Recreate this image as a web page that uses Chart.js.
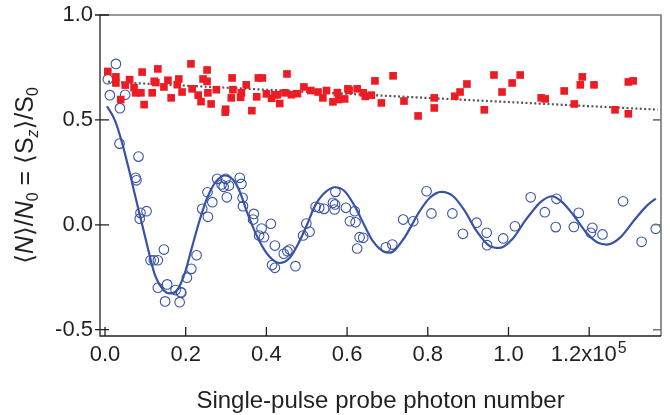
<!DOCTYPE html>
<html>
<head>
<meta charset="utf-8">
<title>Probe photon number</title>
<script src="https://cdn.jsdelivr.net/npm/chart.js"></script>
<style>
    body { margin: 0; background: #fff; }
</style>
</head>
<body>
<canvas id="photonCanvas" width="670" height="415"></canvas>
<script>
// x values are in units of 10^5 photons
let squareX = [0.007, 0.027, 0.027, 0.039, 0.050, 0.061, 0.072, 0.076, 0.089, 0.092,
    0.097, 0.117, 0.122, 0.126, 0.131, 0.146, 0.156, 0.164, 0.179, 0.183,
    0.191, 0.213, 0.216, 0.231, 0.238, 0.243, 0.253, 0.253, 0.255, 0.263,
    0.276, 0.299, 0.298, 0.315, 0.317, 0.313, 0.338, 0.336, 0.350, 0.364,
    0.376, 0.380, 0.390, 0.400, 0.413, 0.421, 0.427, 0.433, 0.446, 0.451,
    0.462, 0.477, 0.493, 0.510, 0.528, 0.540, 0.549, 0.565, 0.576, 0.579,
    0.594, 0.602, 0.605, 0.625, 0.640, 0.645, 0.660, 0.669, 0.685, 0.714,
    0.741, 0.776, 0.816, 0.816, 0.867, 0.880, 0.897, 0.940, 0.964, 0.984,
    1.009, 1.029, 1.081, 1.091, 1.138, 1.163, 1.178, 1.183, 1.212, 1.264,
    1.297, 1.309, 1.297];
let squareY = [0.731, 0.705, 0.676, 0.597, 0.666, 0.692, 0.654, 0.629, 0.629, 0.728,
    0.573, 0.629, 0.684, 0.678, 0.743, 0.657, 0.689, 0.605, 0.668, 0.695,
    0.633, 0.767, 0.648, 0.618, 0.587, 0.695, 0.738, 0.684, 0.629, 0.576,
    0.644, 0.551, 0.537, 0.700, 0.644, 0.605, 0.629, 0.608, 0.667, 0.544,
    0.610, 0.700, 0.700, 0.624, 0.603, 0.620, 0.620, 0.578, 0.629, 0.719,
    0.620, 0.625, 0.657, 0.640, 0.633, 0.605, 0.640, 0.586, 0.630, 0.597,
    0.600, 0.648, 0.641, 0.648, 0.629, 0.612, 0.618, 0.686, 0.581, 0.710,
    0.590, 0.519, 0.605, 0.557, 0.613, 0.633, 0.671, 0.548, 0.714, 0.633,
    0.676, 0.714, 0.605, 0.600, 0.638, 0.576, 0.667, 0.705, 0.667, 0.548,
    0.681, 0.686, 0.529];

let trendX = [0.0075, 1.370];
let trendY = [0.682, 0.549];

let circleX = [0.007, 0.027, 0.012, 0.037, 0.050, 0.036, 0.083, 0.076, 0.078, 0.088,
    0.103, 0.086, 0.146, 0.113, 0.121, 0.131, 0.131, 0.154, 0.149, 0.175,
    0.188, 0.189, 0.185, 0.203, 0.214, 0.227, 0.241, 0.255, 0.266, 0.254,
    0.278, 0.289, 0.294, 0.299, 0.307, 0.302, 0.334, 0.338, 0.341, 0.342,
    0.369, 0.367, 0.388, 0.382, 0.394, 0.411, 0.421, 0.414, 0.421, 0.443,
    0.452, 0.458, 0.472, 0.491, 0.499, 0.507, 0.522, 0.531, 0.543, 0.565,
    0.570, 0.569, 0.571, 0.597, 0.607, 0.621, 0.619, 0.631, 0.640, 0.625,
    0.696, 0.712, 0.739, 0.764, 0.797, 0.809, 0.861, 0.887, 0.921, 0.946,
    0.947, 0.987, 1.016, 1.055, 1.090, 1.119, 1.117, 1.162, 1.174, 1.208,
    1.204, 1.233, 1.284, 1.330, 1.365];
let circleY = [0.694, 0.767, 0.618, 0.556, 0.620, 0.387, 0.325, 0.224, 0.212, 0.057,
    0.065, 0.029, -0.118, -0.169, -0.169, -0.169, -0.300, -0.284, -0.365, -0.311,
    -0.321, -0.324, -0.369, -0.252, -0.210, -0.145, 0.076, 0.038, 0.108, 0.155,
    0.219, 0.192, 0.181, 0.219, 0.187, 0.131, 0.224, 0.195, 0.129, 0.089,
    0.052, 0.025, -0.018, -0.051, -0.059, 0.005, -0.099, -0.192, -0.205, -0.138,
    -0.126, -0.118, -0.197, -0.051, 0.006, -0.033, 0.086, 0.081, 0.076, 0.105,
    0.097, 0.073, 0.157, 0.081, 0.017, 0.012, 0.065, -0.059, -0.062, -0.113,
    -0.107, -0.094, 0.025, 0.017, 0.160, 0.054, 0.054, -0.043, 0.010, -0.038,
    -0.097, -0.065, -0.007, 0.131, 0.060, 0.124, -0.011, -0.010, 0.057, -0.014,
    -0.038, -0.046, 0.112, -0.081, -0.019];

// points
let fitX = [0.005, 0.024, 0.041, 0.061, 0.082, 0.103, 0.123, 0.146, 0.160, 0.177,
    0.198, 0.214, 0.235, 0.255, 0.276, 0.297, 0.317, 0.334, 0.351, 0.371,
    0.392, 0.413, 0.433, 0.458, 0.478, 0.499, 0.520, 0.540, 0.569, 0.594,
    0.619, 0.644, 0.664, 0.689, 0.706, 0.739, 0.780, 0.805, 0.834, 0.863,
    0.892, 0.921, 0.954, 0.978, 1.011, 1.040, 1.053, 1.078, 1.107, 1.131,
    1.160, 1.193, 1.222, 1.244, 1.276, 1.313, 1.342, 1.365];
let fitY = [0.565, 0.500, 0.400, 0.250, 0.080, -0.085, -0.235, -0.313, -0.327, -0.316,
    -0.229, -0.118, 0.025, 0.136, 0.208, 0.235, 0.216, 0.159, 0.065, -0.030,
    -0.110, -0.162, -0.182, -0.157, -0.094, -0.007, 0.089, 0.144, 0.179, 0.160,
    0.089, -0.007, -0.078, -0.126, -0.133, -0.070, 0.065, 0.129, 0.157, 0.136,
    0.065, -0.030, -0.102, -0.110, -0.065, 0.016, 0.049, 0.106, 0.136, 0.112,
    0.049, -0.038, -0.086, -0.094, -0.062, 0.025, 0.089, 0.125];

let xTicks = [0.0, 0.2, 0.4, 0.6, 0.8, 1.0, 1.2];
let xTickLabels = ['0.0', '0.2', '0.4', '0.6', '0.8', '1.0', '1.2x10\u2002'];
let xTickExponent = '5';
let yTicks = [-0.5, 0.0, 0.5, 1.0];

let fontFamily = "'Liberation Sans', Arial, 'DejaVu Sans', sans-serif";
let textColor = '#231f20';
let redColor = '#ed1c24';
let blueColor = '#3953a4';

function toPoints(xs, ys) {
    let points = [];
    for (let i = 0; i < xs.length; i++) {
        points.push({ x: xs[i], y: ys[i] });
    }
    return points;
}

// frame: dark left/bottom axes, grey top/right, ticks pointing inward
const framePlugin = {
    id: 'frame',
    afterDraw(chart) {
        let ctx = chart.ctx;
        let a = chart.chartArea;
        let xs = chart.scales.x;
        let ys = chart.scales.y;
        ctx.save();
        ctx.lineCap = 'butt';

        ctx.strokeStyle = '#777';
        ctx.lineWidth = 1.6;
        ctx.beginPath();
        ctx.moveTo(a.left, a.top);
        ctx.lineTo(a.right, a.top);
        ctx.lineTo(a.right, a.bottom);
        ys.ticks.forEach(function(t) {
            let p = ys.getPixelForValue(t.value);
            ctx.moveTo(a.right, p);
            ctx.lineTo(a.right - 8, p);
        });
        ctx.stroke();

        ctx.strokeStyle = textColor;
        ctx.lineWidth = 1.3;
        ctx.beginPath();
        ctx.moveTo(a.left, a.top);
        ctx.lineTo(a.left, a.bottom);
        ctx.lineTo(a.right, a.bottom);
        ys.ticks.forEach(function(t) {
            let p = ys.getPixelForValue(t.value);
            ctx.moveTo(a.left - 5, p);
            ctx.lineTo(a.left + 9, p);
        });
        xs.ticks.forEach(function(t) {
            let p = xs.getPixelForValue(t.value);
            ctx.moveTo(p, a.bottom);
            ctx.lineTo(p, a.bottom - 9);
        });
        ctx.stroke();

        // raised exponent after the last x tick label
        let last = xTicks.length - 1;
        ctx.font = '22px ' + fontFamily;
        let full = ctx.measureText(xTickLabels[last]).width;
        let base = ctx.measureText(xTickLabels[last].trim()).width;
        let startX = xs.getPixelForValue(xTicks[last]) - full / 2 + base + 1;
        ctx.font = '16px ' + fontFamily;
        ctx.fillStyle = textColor;
        ctx.textAlign = 'left';
        ctx.textBaseline = 'alphabetic';
        ctx.fillText(xTickExponent, startX, a.bottom + 17);
        ctx.restore();
    }
};

// y title with italics and subscripts: <N>/N0 = <Sz>/S0
let yTitleParts = [
    ['\u27e8', ''], ['N', 'i'], ['\u27e9', ''], ['/', ''], ['N', 'i'], ['0', 'sub'],
    [' = ', ''], ['\u27e8', ''], ['S', ''], ['z', 'isub'], ['\u27e9', ''], ['/', ''],
    ['S', ''], ['0', 'sub']
];

const yTitlePlugin = {
    id: 'yTitle',
    afterDraw(chart) {
        let ctx = chart.ctx;
        let a = chart.chartArea;
        let size = 25;
        let subSize = 16;
        function fontFor(kind) {
            if (kind === 'i') return 'italic ' + size + 'px ' + fontFamily;
            if (kind === 'sub') return subSize + 'px ' + fontFamily;
            if (kind === 'isub') return 'italic ' + subSize + 'px ' + fontFamily;
            return size + 'px ' + fontFamily;
        }
        ctx.save();
        let total = 0;
        yTitleParts.forEach(function(part) {
            ctx.font = fontFor(part[1]);
            total += ctx.measureText(part[0]).width;
        });
        ctx.translate(33, (a.top + a.bottom) / 2);
        ctx.rotate(-Math.PI / 2);
        ctx.fillStyle = textColor;
        ctx.textBaseline = 'alphabetic';
        ctx.textAlign = 'left';
        let pos = -total / 2;
        yTitleParts.forEach(function(part) {
            ctx.font = fontFor(part[1]);
            let dy = (part[1] === 'sub' || part[1] === 'isub') ? 5 : 0;
            ctx.fillText(part[0], pos, dy);
            pos += ctx.measureText(part[0]).width;
        });
        ctx.restore();
    }
};

let photonCanvas = document.getElementById('photonCanvas').getContext('2d');

let photonChart = new Chart(photonCanvas, {
    type: 'scatter',
    data: {
        datasets: [
            {
                data: toPoints(squareX, squareY),
                pointStyle: 'rect',
                pointRadius: 5.4,
                backgroundColor: redColor,
                borderWidth: 0,
                order: 1
            },
            {
                data: toPoints(trendX, trendY),
                showLine: true,
                borderColor: '#555',
                borderWidth: 2.2,
                borderDash: [2, 2.4],
                pointRadius: 0,
                order: 3
            },
            {
                data: toPoints(circleX, circleY),
                pointStyle: 'circle',
                pointRadius: 4.8,
                borderColor: blueColor,
                borderWidth: 1.1,
                backgroundColor: 'rgba(0,0,0,0)',
                order: 2
            },
            {
                data: toPoints(fitX, fitY),
                showLine: true,
                cubicInterpolationMode: 'monotone',
                borderColor: blueColor,
                borderWidth: 2.2,
                pointRadius: 0,
                order: 4
            }
        ]
    },
    options: {
        responsive: false,
        animation: false,
        layout: { padding: { left: 0, top: 15, right: 9, bottom: 0 } },
        plugins: {
            legend: { display: false },
            tooltip: { enabled: false }
        },
        scales: {
            x: {
                type: 'linear',
                min: -0.0124,
                max: 1.378,
                grid: { display: false, drawTicks: false },
                border: { display: false },
                afterBuildTicks: function(scale) {
                    scale.ticks = xTicks.map(function(v) { return { value: v }; });
                },
                afterFit: function(scale) { scale.height = 79; },
                ticks: {
                    padding: 6,
                    color: textColor,
                    maxRotation: 0,
                    autoSkip: false,
                    font: { family: fontFamily, size: 22 },
                    callback: function(value, index) { return xTickLabels[index]; }
                },
                title: {
                    display: true,
                    text: 'Single-pulse probe photon number',
                    color: textColor,
                    padding: { top: 0, bottom: 0 },
                    font: { family: fontFamily, size: 24, lineHeight: 1.15 }
                }
            },
            y: {
                min: -0.53,
                max: 1.0,
                grid: { display: false, drawTicks: false },
                border: { display: false },
                afterBuildTicks: function(scale) {
                    scale.ticks = yTicks.map(function(v) { return { value: v }; });
                },
                afterFit: function(scale) {
                    scale.width = 100;
                    // keep the plot top at the layout padding, not the label half height
                    scale.paddingTop = 0;
                    scale.paddingBottom = 0;
                },
                ticks: {
                    padding: 7,
                    color: textColor,
                    font: { family: fontFamily, size: 22 },
                    callback: function(value) { return value.toFixed(1); }
                }
            }
        }
    },
    plugins: [framePlugin, yTitlePlugin]
});
</script>
</body>
</html>
